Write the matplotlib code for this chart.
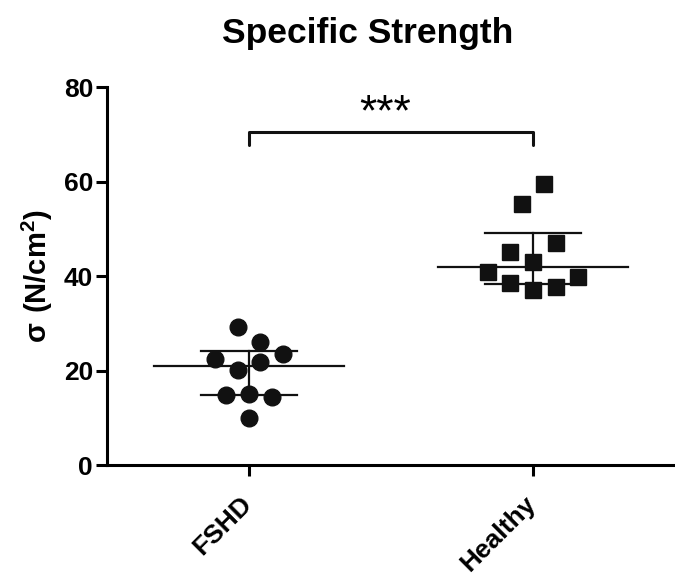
import numpy as np
import matplotlib.pyplot as plt
from matplotlib import rc
from matplotlib.transforms import ScaledTranslation

rc("font", family="Liberation Sans", weight="bold")
rc("mathtext", fontset="custom", rm="Liberation Sans", bf="Liberation Sans:bold")

groups = ["FSHD", "Healthy"]
# values in entry order (entry order decides left/right placement within a row)
fshd = [9.9, 15.0, 14.5, 14.8, 20.1, 21.8, 22.4, 23.5, 29.2, 26.0]
healthy = [37.0, 37.7, 38.5, 39.8, 40.8, 43.0, 47.0, 45.1, 55.2, 59.6]
yticks = [0, 20, 40, 60, 80]
signif = "***"


def dot_offsets(vals, bin_h=4.5):
    # graphpad-like layout: bin values into rows, spread each row about the centre
    vals = np.asarray(vals)
    order = np.argsort(vals, kind="stable")
    offs = np.zeros(len(vals))
    rows = []
    for i in order:
        if rows and vals[i] - vals[rows[-1][0]] < bin_h:
            rows[-1].append(i)
        else:
            rows.append([i])
    for row in rows:
        row = sorted(row)
        n = len(row)
        if n % 2:
            slots = [0] + [s * k for k in range(1, n) for s in (1, -1)]
        else:
            slots = [s * (k - 0.5) for k in range(1, n) for s in (-1, 1)]
        for j, i in enumerate(row):
            offs[i] = slots[j]
    return offs


fig = plt.figure(figsize=(6.75, 5.77), dpi=100)
ax = fig.add_axes([0.1585, 0.194, 0.8415, 0.655])
ax.set_xlim(-0.5, 1.5)
ax.set_ylim(0, 80)

step = 0.08  # horizontal spacing between dots
for i, (vals, mk, ms) in enumerate([(fshd, "o", 12), (healthy, "s", 11)]):
    xs = i + step * dot_offsets(vals)
    ax.plot(xs, vals, mk, ms=ms, color="#111111", mec="#111111", zorder=3)
    q1, med, q3 = np.percentile(vals, [25, 50, 75], method="weibull")
    ax.plot([i - 0.335, i + 0.335], [med, med], color="#111111", lw=1.6, zorder=2)
    ax.plot([i - 0.17, i + 0.17], [q1, q1], color="#111111", lw=1.6, zorder=2)
    ax.plot([i - 0.17, i + 0.17], [q3, q3], color="#111111", lw=1.6, zorder=2)
    ax.plot([i, i], [q1, q3], color="#111111", lw=1.6, zorder=2)

# significance bracket
ax.plot([0, 0, 1, 1], [67.8, 70.5, 70.5, 67.8], color="#111111", lw=2.2, solid_capstyle="round")
ax.text(0.48, 72.0, signif, ha="center", va="baseline", fontsize=32, fontweight="normal")

ax.spines["top"].set_visible(False)
ax.spines["right"].set_visible(False)
ax.spines["left"].set_linewidth(2.2)
ax.spines["bottom"].set_linewidth(2.2)
ax.set_yticks(yticks)
ax.set_xticks(range(len(groups)))
ax.set_xticklabels(groups, rotation=45, ha="right", va="top", rotation_mode="anchor")
ax.tick_params(axis="both", direction="out", length=8, width=2.2, labelsize=19, pad=2)
ax.tick_params(axis="x", pad=8)
shift = ScaledTranslation(-7 / 72, -3 / 72, fig.dpi_scale_trans)
for lab in ax.get_xticklabels():
    lab.set_transform(lab.get_transform() + shift)
ax.set_ylabel(r"$\mathrm{σ}\ \mathbf{(N/cm^{2})}$", fontsize=21, labelpad=6)
fig.text(0.544, 1 - 43 / 577, "Specific Strength", ha="center", va="baseline",
         fontsize=25.5, fontweight="bold")

fig.savefig("out.png", dpi=100)
